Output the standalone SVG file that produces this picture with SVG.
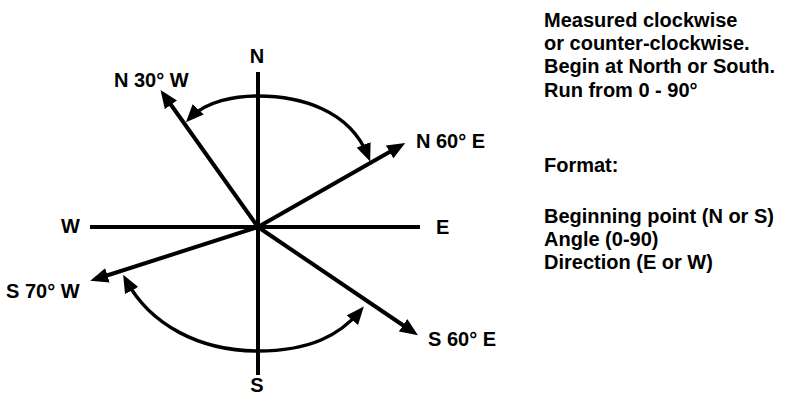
<svg xmlns="http://www.w3.org/2000/svg" width="788" height="397" viewBox="0 0 788 397">
<defs>
<style>
.t{font-family:"Liberation Sans",Arial,sans-serif;font-weight:bold;font-size:20px;fill:#000}
.ln{stroke:#000;stroke-width:4;fill:none}
.arc{stroke:#000;stroke-width:3.5;fill:none}
</style>
<marker id="ah" markerUnits="userSpaceOnUse" markerWidth="18" markerHeight="15" refX="12" refY="7.5" orient="auto-start-reverse" viewBox="0 0 18 15">
<path d="M0,0 L18,7.5 L0,15 z" fill="#000"/>
</marker>
</defs>
<rect width="788" height="397" fill="#fff"/>
<g id="connectors">
<line class="ln" x1="258" y1="72" x2="258" y2="375"/>
<line class="ln" x1="90" y1="227" x2="420" y2="227"/>
<line class="ln" x1="258" y1="227" x2="164" y2="95" marker-end="url(#ah)"/>
<line class="ln" x1="258" y1="227" x2="400" y2="146" marker-end="url(#ah)"/>
<line class="ln" x1="258" y1="227" x2="96" y2="279" marker-end="url(#ah)"/>
<line class="ln" x1="258" y1="227" x2="413" y2="332" marker-end="url(#ah)"/>
<path class="arc" d="M190,118 C206,101 235,96 258,96 C300,96 350,110 368,156" marker-start="url(#ah)" marker-end="url(#ah)"/>
<path class="arc" d="M126,280 C150,325 200,351 258,351 C310,351 340,335 360,311" marker-start="url(#ah)" marker-end="url(#ah)"/>
</g>
<g id="n-label"><text class="t" x="257" y="63" text-anchor="middle">N</text></g>
<g id="s-label"><text class="t" x="257" y="392" text-anchor="middle">S</text></g>
<g id="w-label"><text class="t" x="61" y="233">W</text></g>
<g id="e-label"><text class="t" x="436" y="234">E</text></g>
<g id="n30w"><text class="t" x="114" y="87">N 30° W</text></g>
<g id="n60e"><text class="t" x="416" y="148">N 60° E</text></g>
<g id="s70w"><text class="t" x="6" y="298">S 70° W</text></g>
<g id="s60e"><text class="t" x="428" y="346">S 60° E</text></g>
<g id="notes">
<text class="t" x="544" y="27">Measured clockwise</text>
<text class="t" x="544" y="50">or counter-clockwise.</text>
<text class="t" x="544" y="73">Begin at North or South.</text>
<text class="t" x="544" y="97">Run from 0 - 90°</text>
<text class="t" x="544" y="172">Format:</text>
<text class="t" x="544" y="223">Beginning point (N or S)</text>
<text class="t" x="544" y="246">Angle (0-90)</text>
<text class="t" x="544" y="269">Direction (E or W)</text>
</g>
</svg>
